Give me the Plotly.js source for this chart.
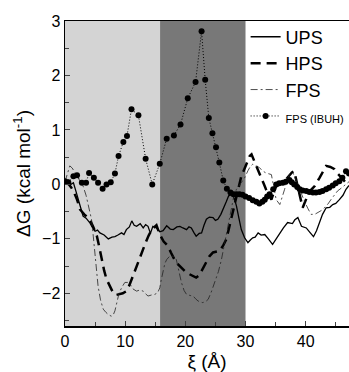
<!DOCTYPE html>
<html>
<head>
<meta charset="utf-8">
<script src="https://cdn.plot.ly/plotly-3.0.1.min.js"></script>
<style>html,body{margin:0;padding:0;background:#fff;}#chart{width:349px;height:372px;}</style>
</head>
<body>
<div id="chart"></div>
<script>
// Window regions (xi, Angstrom)
const regionLight = [0, 15.8];
const regionDark = [15.8, 30];

// UPS
const upsX = [0,0.5,1.0,1.4,1.8,2.2,2.6,3.0,3.5,4.1,4.5,5.0,5.4,5.8,6.5,7.2,7.8,8.3,8.8,9.4,9.8,10.2,10.7,11.1,11.5,11.9,12.5,13.0,13.4,13.8,14.2,14.6,15.2,15.75,16.3,16.9,17.5,18.0,18.6,19.1,19.6,20.2,20.6,21.0,21.4,21.8,22.3,22.7,23.1,23.5,24.0,24.6,25.0,25.4,25.9,26.3,26.8,27.2,27.8,28.2,28.5,28.9,29.3,29.85,30.4,30.8,31.2,31.6,32.1,32.6,33.2,33.8,34.5,35.1,35.7,36.3,37.0,37.8,38.2,38.7,39.3,40.1,40.7,41.3,41.8,42.3,42.8,43.4,44.0,44.5,45.0,45.6,46.2,46.7,47.2];
const upsY = [0.05,0.08,0.0,0.03,-0.12,-0.28,-0.42,-0.58,-0.62,-0.70,-0.78,-0.86,-0.84,-0.89,-0.93,-1.0,-0.97,-0.96,-0.93,-0.89,-0.92,-0.83,-0.78,-0.67,-0.75,-0.77,-0.72,-0.80,-0.74,-0.77,-0.90,-0.77,-0.80,-0.87,-0.85,-0.76,-0.82,-0.83,-0.78,-0.77,-0.80,-0.83,-0.78,-0.80,-0.88,-0.95,-0.90,-0.89,-0.75,-0.64,-0.60,-0.61,-0.66,-0.64,-0.55,-0.46,-0.32,-0.21,-0.18,-0.28,-0.40,-0.62,-0.83,-0.98,-1.07,-1.02,-0.98,-0.97,-0.89,-0.93,-0.92,-1.0,-1.10,-1.0,-0.89,-0.80,-0.70,-0.72,-0.65,-0.61,-0.77,-0.80,-0.88,-0.96,-0.85,-0.70,-0.55,-0.43,-0.42,-0.37,-0.35,-0.28,-0.20,-0.09,-0.02];

// HPS
const hpsX = [0,0.5,1.0,1.4,2.0,2.5,3.2,4.1,4.7,5.3,5.7,6.1,6.5,6.9,7.5,8.0,8.5,9.1,9.6,10.2,10.7,11.3,11.8,12.4,12.9,13.4,13.9,14.4,15.2,15.75,16.4,17.1,17.6,18.2,18.8,19.3,20.0,20.7,21.3,21.8,22.3,22.7,23.1,23.5,24.0,24.6,25.2,25.7,26.3,26.8,27.2,27.6,28.1,28.5,28.9,29.3,29.8,30.3,30.7,31.0,31.4,31.8,32.2,32.6,33.0,33.4,33.9,34.3,34.7,35.1,35.6,36.2,36.8,37.3,37.7,38.1,38.5,39.0,39.5,39.9,40.3,40.9,41.5,42.3,42.8,43.4,44.1,44.8,45.3,45.9,46.4,46.7,47.2];
const hpsY = [0.05,0.02,-0.05,-0.12,-0.28,-0.46,-0.55,-0.64,-0.78,-0.95,-1.15,-1.38,-1.58,-1.74,-1.88,-1.99,-2.03,-2.02,-2.0,-1.96,-1.85,-1.68,-1.53,-1.38,-1.22,-1.07,-0.94,-0.83,-0.75,-0.92,-1.05,-1.13,-1.25,-1.38,-1.47,-1.53,-1.60,-1.65,-1.68,-1.71,-1.67,-1.59,-1.50,-1.41,-1.32,-1.25,-1.24,-1.22,-1.12,-1.01,-0.83,-0.64,-0.42,-0.21,-0.03,0.15,0.28,0.42,0.52,0.55,0.45,0.34,0.22,0.12,0.02,-0.09,-0.20,-0.28,-0.15,-0.03,0.0,0.03,0.10,0.18,0.22,0.24,0.05,-0.15,-0.43,-0.32,-0.21,-0.10,-0.03,0.12,0.22,0.34,0.32,0.28,0.20,0.12,0.06,0.03,0.08];

// FPS
const fpsX = [0,0.4,0.8,1.2,1.7,2.1,2.5,3.0,3.5,3.9,4.4,4.7,5.0,5.3,5.5,5.9,6.35,6.8,7.2,7.7,8.0,8.3,8.6,9.0,9.5,9.95,10.4,10.8,11.3,11.9,12.4,13.0,13.4,13.8,14.4,14.9,15.4,15.75,16.0,16.3,16.6,16.9,17.3,17.7,18.1,18.5,18.9,19.35,19.8,20.2,20.8,21.3,21.7,22.1,22.5,22.9,23.4,23.8,24.3,24.9,25.5,26.0,26.4,26.8,27.2,27.6,28.0,28.5,28.9,29.3,29.85,30.4,30.8,31.2,31.8,32.3,32.8,33.4,34.3,34.7,35.1,35.7,36.1,36.5,36.9,37.3,37.9,38.3,38.7,39.2,39.8,40.4,40.9,41.5,42.0,42.6,43.1,43.7,44.2,44.8,45.3,45.9,46.4,47.2];
const fpsY = [0.05,0.2,0.34,0.30,0.21,0.12,0.06,-0.03,-0.20,-0.40,-0.64,-0.95,-1.25,-1.6,-1.87,-2.12,-2.29,-2.35,-2.39,-2.42,-2.40,-2.32,-2.15,-1.99,-1.88,-1.80,-1.80,-1.83,-1.92,-1.96,-1.94,-1.96,-2.01,-2.05,-2.03,-2.02,-1.99,-1.90,-1.75,-1.60,-1.45,-1.38,-1.33,-1.31,-1.33,-1.38,-1.60,-1.80,-1.95,-2.02,-2.04,-2.05,-2.10,-2.14,-2.16,-2.17,-2.15,-2.11,-1.98,-1.80,-1.60,-1.38,-1.15,-0.95,-0.70,-0.46,-0.25,-0.09,-0.03,0.03,0.12,0.25,0.33,0.37,0.33,0.31,0.25,0.21,0.18,-0.05,-0.28,-0.37,-0.25,-0.09,0.08,0.18,0.21,0.10,-0.03,-0.15,-0.31,-0.45,-0.55,-0.55,-0.52,-0.48,-0.43,-0.36,-0.28,-0.20,-0.12,-0.07,-0.03,0.05];

// FPS (IBUH)
const ibuhX = [0,0.55,1.4,2.0,2.8,3.5,4.0,4.8,5.5,6.25,6.9,7.6,8.3,8.9,9.7,10.3,11.05,12.2,13.4,14.5,15.75,16.9,18.1,19.2,20.4,21.7,22.7,23.3,23.9,24.5,25.1,25.65,26.3,26.9,27.5,28.0,28.5,29.0,29.5,30.0,30.6,31.2,31.8,32.3,32.8,33.2,33.6,34.0,34.6,35.1,35.6,36.2,36.7,37.3,37.7,38.1,38.6,39.0,39.5,40.1,40.6,41.2,41.7,42.3,42.8,43.4,43.9,44.5,45.0,45.6,46.1,46.7,47.2];
const ibuhY = [0.06,0.04,0.15,0.17,0.03,0.03,0.21,0.12,0.03,-0.08,0.0,0.04,0.2,0.52,0.78,0.89,1.38,1.27,0.47,0.0,0.38,0.84,0.9,1.1,1.58,1.88,2.81,1.92,1.22,0.94,0.68,0.40,0.07,-0.08,-0.15,-0.18,-0.18,-0.18,-0.19,-0.22,-0.25,-0.29,-0.32,-0.35,-0.32,-0.28,-0.22,-0.18,-0.09,0.0,0.02,0.03,0.05,0.08,0.04,0.0,-0.05,-0.09,-0.11,-0.12,-0.14,-0.15,-0.15,-0.14,-0.12,-0.09,-0.06,-0.02,0.02,0.06,0.12,0.24,0.2];

const seriesNames = ['UPS', 'HPS', 'FPS', 'FPS (IBUH)'];

const FONT = 'Liberation Sans, Arial, Helvetica, sans-serif';

const traces = [
  {x: upsX, y: upsY, name: seriesNames[0], mode: 'lines', line: {color: '#000', width: 1.3}},
  {x: hpsX, y: hpsY, name: seriesNames[1], mode: 'lines', line: {color: '#000', width: 2.5, dash: '10px,6px'}},
  {x: fpsX, y: fpsY, name: seriesNames[2], mode: 'lines', line: {color: '#222', width: 0.8, dash: '7px,3px,2px,3px'}},
  {x: ibuhX, y: ibuhY, name: '<span style="font-size:11px">' + seriesNames[3] + '</span>', mode: 'lines+markers',
   line: {color: '#000', width: 1, dash: '1px,2px'}, marker: {color: '#000', size: 6}}
];

const layout = {
  width: 349, height: 372,
  margin: {l: 65, r: 0, t: 21, b: 46, autoexpand: false},
  paper_bgcolor: '#fff', plot_bgcolor: '#fff',
  font: {family: FONT, color: '#000', size: 16},
  showlegend: true,
  legend: {x: 0.636, y: 1.008, xanchor: 'left', yanchor: 'top', bgcolor: 'rgba(255,255,255,0)',
           font: {family: FONT, size: 18, color: '#000'}, tracegroupgap: 0},
  xaxis: {range: [0, 47.2], tickvals: [0, 10, 20, 30, 40], ticks: 'inside', ticklen: 5, tickwidth: 1,
          minor: {dtick: 5, ticks: 'inside', ticklen: 4, tickwidth: 1, showgrid: false},
          showline: true, linecolor: '#000', linewidth: 1.5, mirror: true,
          showgrid: false, zeroline: false, tickfont: {size: 16},
          title: {text: 'ξ (Å)', font: {size: 19}, standoff: 6}},
  yaxis: {range: [-2.6, 3], tickvals: [-2, -1, 0, 1, 2, 3], ticks: 'inside', ticklen: 5, tickwidth: 1,
          minor: {dtick: 0.5, ticks: 'inside', ticklen: 4, tickwidth: 1, showgrid: false},
          showline: true, linecolor: '#000', linewidth: 1.5,
          showgrid: false, zeroline: false, tickfont: {size: 16},
          title: {text: 'ΔG (kcal mol<sup>-1</sup>)', font: {size: 19}, standoff: 6}},
  shapes: [
    {type: 'rect', xref: 'x', yref: 'paper', x0: regionLight[0], x1: regionLight[1], y0: 0, y1: 1,
     fillcolor: '#d4d4d4', line: {width: 0}, layer: 'below'},
    {type: 'rect', xref: 'x', yref: 'paper', x0: regionDark[0], x1: regionDark[1], y0: 0, y1: 1,
     fillcolor: '#787878', line: {width: 0}, layer: 'below'}
  ]
};

Plotly.newPlot('chart', traces, layout, {displayModeBar: false, staticPlot: true});
</script>
</body>
</html>
